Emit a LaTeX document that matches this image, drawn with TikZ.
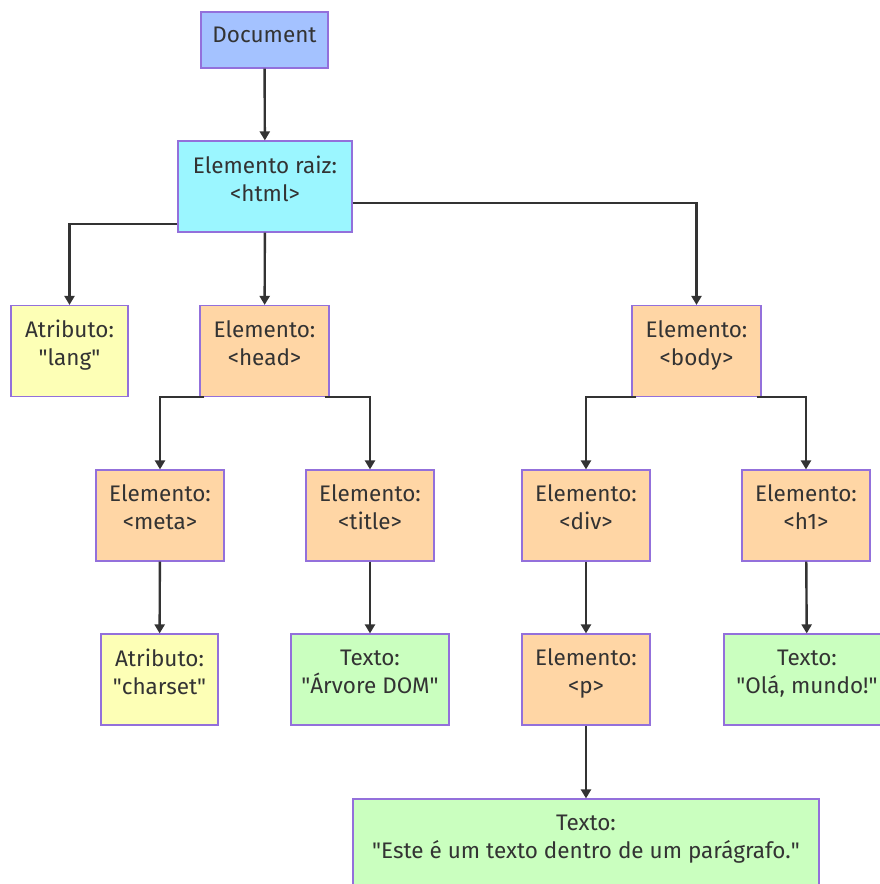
\documentclass[tikz,border=0pt]{standalone}
\usepackage{fontspec}
\setmainfont{Fira Sans}
\usetikzlibrary{arrows.meta}
\definecolor{docfill}{HTML}{A4C2FF}
\definecolor{rootfill}{HTML}{9BF6FF}
\definecolor{attrfill}{HTML}{FDFFB6}
\definecolor{elemfill}{HTML}{FFD6A5}
\definecolor{textfill}{HTML}{CAFFBF}
\definecolor{nodeedge}{HTML}{9370DB}
\definecolor{inkgray}{HTML}{333333}
\newcommand{\dq}{\textquotedbl}
\tikzset{
  dom node/.style={
    draw=nodeedge,
    line width=1.2pt,
    text=inkgray,
    align=center,
    inner sep=0pt,
    minimum height=91pt,
    text depth=16pt,
    font=\fontsize{22.5}{28}\selectfont,
  },
  link/.style={
    draw=inkgray,
    line width=2.4pt,
    -{Triangle[length=9pt,width=10pt]},
  },
}

\begin{document}
\begin{tikzpicture}[x=1pt, y=-1pt]
        \useasboundingbox (0,0) rectangle (880,884);
        \clip (0,0) rectangle (880,884);
        \fill[white] (0,0) rectangle (880,884);

        % top
        \node[dom node, fill=docfill , minimum width=127pt, minimum height=56pt, text depth=10pt] (doc)  at (264.5,40)    {Document};
        \node[dom node, fill=rootfill, minimum width=174pt] (html) at (265,186.5)   {Elemento raiz:\\<html>};

        % level 2
        \node[dom node, fill=attrfill, minimum width=117pt] (lang) at (69.5,351)    {Atributo:\\\dq lang\dq};
        \node[dom node, fill=elemfill, minimum width=129pt] (head) at (264.5,351)   {Elemento:\\<head>};
        \node[dom node, fill=elemfill, minimum width=129pt] (body) at (696.5,351)   {Elemento:\\<body>};

        % level 3
        \node[dom node, fill=elemfill, minimum width=128pt] (meta)  at (160,515.5)  {Elemento:\\<meta>};
        \node[dom node, fill=elemfill, minimum width=128pt] (title) at (370,515.5)  {Elemento:\\<title>};
        \node[dom node, fill=elemfill, minimum width=128pt] (div)   at (586,515.5)  {Elemento:\\<div>};
        \node[dom node, fill=elemfill, minimum width=128pt] (h1)    at (806,515.5)  {Elemento:\\<h1>};

        % level 4
        \node[dom node, fill=attrfill, minimum width=117pt] (charset) at (159.5,679.5) {Atributo:\\\dq charset\dq};
        \node[dom node, fill=textfill, minimum width=158pt] (arvore)  at (370,679.5)   {Texto:\\\dq Árvore DOM\dq};
        \node[dom node, fill=elemfill, minimum width=128pt] (p)       at (586,679.5)   {Elemento:\\<p>};
        \node[dom node, fill=textfill, minimum width=166pt] (ola)     at (807,679.5)   {Texto:\\\dq Olá, mundo!\dq};

        % level 5
        \node[dom node, fill=textfill, minimum width=466pt, minimum height=91pt] (para) at (586,844.5)
          {Texto:\\\dq Este é um texto dentro de um parágrafo.\dq};

        \draw[link] (doc) -- (html);
        \draw[link] ([yshift=-37.5pt]html.west) -| (lang);
        \draw[link] (html) -- (head);
        \draw[link] ([yshift=-16.5pt]html.east) -| (body);

        \draw[link] ([xshift=5pt]head.south west) -| (meta);
        \draw[link] ([xshift=-5pt]head.south east) -| (title);
        \draw[link] ([xshift=5pt]body.south west) -| (div);
        \draw[link] ([xshift=-5pt]body.south east) -| (h1);

        \draw[link] (meta) -- (charset);
        \draw[link] (title) -- (arvore);
        \draw[link] (div) -- (p);
        \draw[link] (h1) -- (ola);
        \draw[link] (p) -- (para);
      \end{tikzpicture}
\end{document}
